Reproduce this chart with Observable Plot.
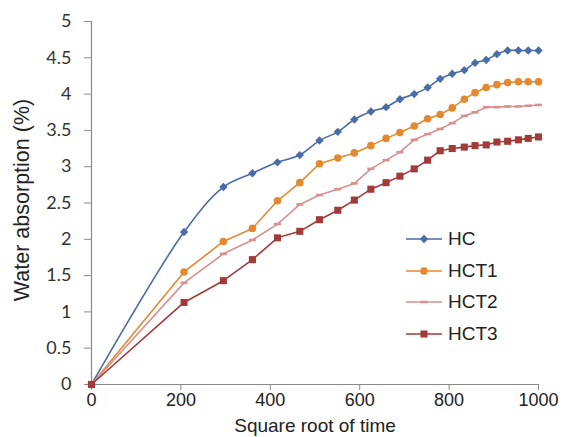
<!DOCTYPE html>
<html>
<head>
<meta charset="utf-8">
<script src="https://cdn.jsdelivr.net/npm/d3@7"></script>
<script src="https://cdn.jsdelivr.net/npm/@observablehq/plot@0.6"></script>
<style>
  html, body { margin: 0; padding: 0; background: #fff; }
  #wrap { position: relative; width: 564px; height: 437px; overflow: hidden; background: #fff; }
  #legend { position: absolute; left: 405px; top: 223px; font-family: "Liberation Sans", Arial, sans-serif; font-size: 19px; color: #222; }
  .row { display: flex; align-items: center; height: 31.7px; }
  .row svg { margin-right: 5px; }
</style>
</head>
<body>
<div id="wrap"><div id="legend"></div></div>
<script>
const time = [0, 207, 295, 360, 416, 466, 510, 551, 588, 625, 659, 690, 722, 752, 780, 807, 834, 858, 883, 907, 931, 955, 977, 1000];
const HC   = [0, 2.10, 2.72, 2.91, 3.06, 3.16, 3.36, 3.48, 3.65, 3.76, 3.82, 3.93, 4.00, 4.09, 4.21, 4.28, 4.33, 4.43, 4.47, 4.55, 4.60, 4.60, 4.60, 4.60];
const HCT1 = [0, 1.55, 1.97, 2.15, 2.53, 2.78, 3.04, 3.12, 3.19, 3.29, 3.39, 3.47, 3.56, 3.66, 3.72, 3.81, 3.93, 4.02, 4.09, 4.13, 4.16, 4.17, 4.17, 4.17];
const HCT2 = [0, 1.40, 1.80, 1.99, 2.21, 2.48, 2.61, 2.69, 2.77, 2.97, 3.09, 3.20, 3.37, 3.45, 3.52, 3.60, 3.70, 3.75, 3.82, 3.82, 3.83, 3.83, 3.84, 3.85];
const HCT3 = [0, 1.13, 1.43, 1.72, 2.02, 2.11, 2.27, 2.40, 2.54, 2.69, 2.78, 2.87, 2.97, 3.09, 3.22, 3.25, 3.27, 3.29, 3.30, 3.34, 3.35, 3.37, 3.39, 3.41];
const seriesNames = ["HC", "HCT1", "HCT2", "HCT3"];
const xTicks = [0, 200, 400, 600, 800, 1000];
const yTicks = [0, 0.5, 1, 1.5, 2, 2.5, 3, 3.5, 4, 4.5, 5];
const xTitle = "Square root of time";
const yTitle = "Water absorption (%)";

const colors = {HC: "#4a6ca8", HCT1: "#e4892f", HCT2: "#d9918f", HCT3: "#a23a3a"};
const dashSymbol = {draw(ctx, size) { ctx.rect(-3.5, -1.3, 7, 2.6); }};
const diamondSymbol = {draw(ctx, size) { const s = 4.2; ctx.moveTo(0, -s); ctx.lineTo(s, 0); ctx.lineTo(0, s); ctx.lineTo(-s, 0); ctx.closePath(); }};
const symbols = {HC: diamondSymbol, HCT1: "circle", HCT2: dashSymbol, HCT3: "square"};
const radii = {HC: 2.5, HCT1: 3.8, HCT2: 2, HCT3: 4};
const curves = {HC: "catmull-rom", HCT1: "linear", HCT2: "linear", HCT3: "linear"};
const values = {HC, HCT1, HCT2, HCT3};

const marks = [
  Plot.ruleX([0], {y1: 0, y2: 5, stroke: "#8a8a8a", strokeWidth: 1.2}),
  Plot.ruleY([0], {x1: 0, x2: 1000, stroke: "#8a8a8a", strokeWidth: 1.2}),
  Plot.axisY({ticks: yTicks, tickFormat: d => String(d), tickSize: 7, tickPadding: 13, fontSize: 18, fontFamily: "Lato, 'Open Sans', sans-serif", stroke: "#8a8a8a", fill: "#333", label: null}),
  Plot.axisX({ticks: xTicks, tickFormat: d => String(d), tickSize: 6, tickPadding: 3, fontSize: 18, fontFamily: "'Liberation Sans', Arial, sans-serif", stroke: "#8a8a8a", fill: "#222", label: null}),
  Plot.text([yTitle], {text: d => d, frameAnchor: "left", textAnchor: "middle", rotate: -90, dx: -69, dy: -3, fontSize: 21.5, fontFamily: "'Liberation Sans', Arial, sans-serif", fill: "#222"}),
  Plot.text([xTitle], {text: d => d, frameAnchor: "bottom", dy: 47, fontSize: 19, fontFamily: "'Liberation Sans', Arial, sans-serif", fill: "#222"})
];
for (const name of seriesNames) {
  const data = time.map((t, i) => ({t, v: values[name][i]}));
  marks.push(Plot.line(data, {x: "t", y: "v", stroke: colors[name], strokeWidth: 1.6, curve: curves[name]}));
  marks.push(Plot.dot(data, {x: "t", y: "v", fill: colors[name], stroke: "none", symbol: () => symbols[name], r: radii[name]}));
}

const chart = Plot.plot({
  width: 564, height: 437,
  marginLeft: 91, marginRight: 26, marginTop: 21, marginBottom: 53,
  style: {background: "#fff", overflow: "visible"},
  x: {domain: [0, 1000], label: null},
  y: {domain: [0, 5], label: null},
  marks
});
document.getElementById("wrap").prepend(chart);

const legend = d3.select("#legend");
for (const name of seriesNames) {
  const row = legend.append("div").attr("class", "row");
  const svg = row.append("svg").attr("width", 38).attr("height", 14);
  svg.append("line").attr("x1", 1).attr("x2", 37).attr("y1", 7).attr("y2", 7).attr("stroke", colors[name]).attr("stroke-width", 1.6);
  const sym = symbols[name];
  const r = radii[name];
  const symType = sym === "circle" ? d3.symbolCircle : sym === "square" ? d3.symbolSquare : sym;
  svg.append("path").attr("transform", "translate(19,7)").attr("d", d3.symbol(symType, Math.PI * r * r)()).attr("fill", colors[name]);
  row.append("span").text(name);
}
</script>
</body>
</html>
